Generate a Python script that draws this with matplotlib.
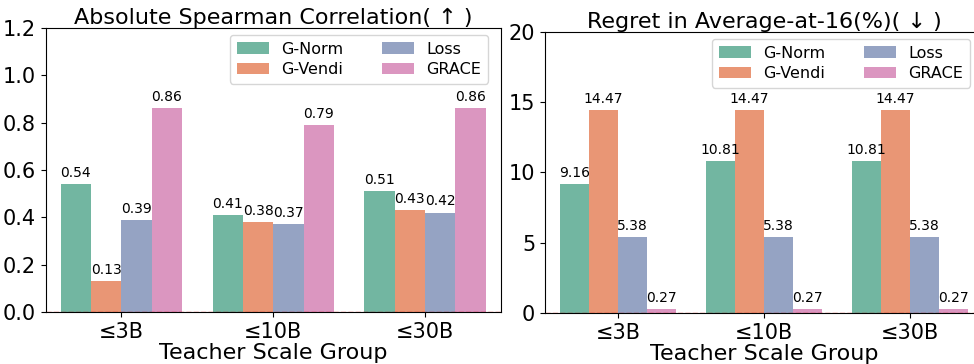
import matplotlib
matplotlib.use("Agg")
import matplotlib.pyplot as plt
import numpy as np
import colorsys

groups = ["≤3B", "≤10B", "≤30B"]
methods = ["G-Norm", "G-Vendi", "Loss", "GRACE"]
spearman = {
    "G-Norm": [0.54, 0.41, 0.51],
    "G-Vendi": [0.13, 0.38, 0.43],
    "Loss": [0.39, 0.37, 0.42],
    "GRACE": [0.86, 0.79, 0.86],
}
regret = {
    "G-Norm": [9.16, 10.81, 10.81],
    "G-Vendi": [14.47, 14.47, 14.47],
    "Loss": [5.38, 5.38, 5.38],
    "GRACE": [0.27, 0.27, 0.27],
}

base = ["#66c2a5", "#fc8d62", "#8da0cb", "#e78ac3"]
def desat(c, p=0.75):
    r, g, b = matplotlib.colors.to_rgb(c)
    h, l, s = colorsys.rgb_to_hls(r, g, b)
    return colorsys.hls_to_rgb(h, l, s * p)
colors = [desat(c) for c in base]

W, H = 974, 364
fig = plt.figure(figsize=(W / 100, H / 100), dpi=100)
l1, r1, t1, b1 = 45.5, 501, 28, 312
l2, r2, t2, b2 = 545, 983, 32, 313
ax1 = fig.add_axes([l1 / W, (H - b1) / H, (r1 - l1) / W, (b1 - t1) / H])
ax2 = fig.add_axes([l2 / W, (H - b2) / H, (r2 - l2) / W, (b2 - t2) / H])

x = np.arange(len(groups))
w = 0.2

def draw(ax, data, ylim, yticks, yticklabels, title, axw):
    for i, m in enumerate(methods):
        pos = x - 0.3 + i * w
        bars = ax.bar(pos, data[m], width=w, color=colors[i], label=m)
        ax.bar_label(bars, labels=["{:.2f}".format(v) for v in data[m]],
                     padding=3, fontsize=10)
    ax.axhline(0, color="red", linestyle="--", linewidth=1, alpha=0.6)
    ax.set_ylim(*ylim)
    ax.set_yticks(yticks)
    ax.set_yticklabels(yticklabels)
    ax.set_xticks(x)
    ax.set_xticklabels(groups)
    ax.set_xlim(-0.5, 2.5)
    ax.tick_params(labelsize=15)
    ax.set_xlabel("Teacher Scale Group", fontsize=16, labelpad=1)
    ax.set_title(title, fontsize=16, pad=3)
    ax.legend(loc="upper right", ncol=2, fontsize=11.5,
              bbox_to_anchor=(1 - 6 / axw, 1), borderaxespad=0.45,
              labelspacing=0.35, columnspacing=2.4)

draw(ax1, spearman, (0, 1.2), [0, 0.2, 0.4, 0.6, 0.8, 1.0, 1.2],
     ["0.0", "0.2", "0.4", "0.6", "0.8", "1.0", "1.2"],
     "Absolute Spearman Correlation( ↑ )", r1 - l1)
draw(ax2, regret, (0, 20), [0, 5, 10, 15, 20],
     ["0", "5", "10", "15", "20"],
     "Regret in Average-at-16(%)( ↓ )", r2 - l2)

fig.savefig("out.png", dpi=100)
